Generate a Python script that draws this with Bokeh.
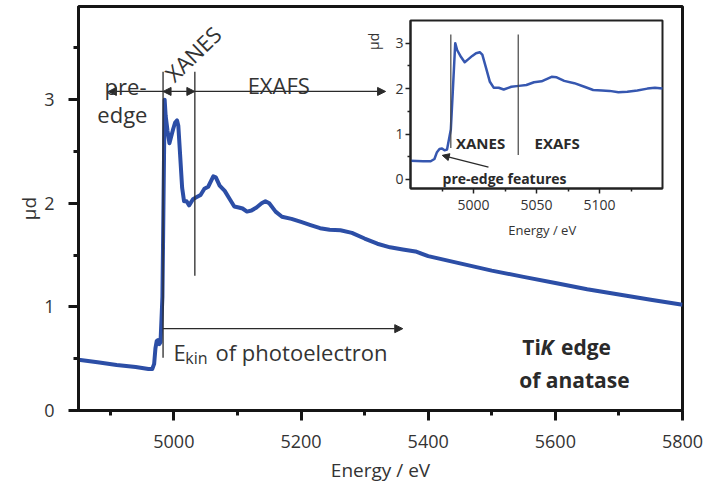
import numpy as np
from bokeh.plotting import figure
from bokeh.models import Range1d, LinearAxis, FixedTicker, Label, Arrow, NormalHead
from bokeh.embed import file_html
from bokeh.resources import INLINE

# Ti K-edge absorption spectrum of anatase
energy = [4850, 4880, 4910, 4940, 4950, 4960, 4966, 4969, 4971, 4973, 4975, 4977, 4979,
          4981, 4982, 4983.5, 4985.5, 4987, 4990, 4993, 4996, 4999, 5002, 5005,
          5007, 5010, 5013, 5016, 5020, 5024, 5030, 5036, 5042, 5048, 5054, 5062,
          5066, 5072, 5080, 5088, 5095, 5102, 5108, 5115, 5122, 5130, 5138, 5144,
          5150, 5160, 5170, 5185, 5200, 5215, 5230, 5245, 5262, 5280, 5300, 5320,
          5340, 5360, 5380, 5400, 5450, 5500, 5550, 5600, 5650, 5700, 5750, 5800]
mu_d = [0.49, 0.465, 0.44, 0.42, 0.41, 0.40, 0.40, 0.45, 0.60, 0.67, 0.68, 0.64, 0.66,
        0.95, 1.10, 1.90, 3.00, 2.85, 2.70, 2.58, 2.65, 2.72, 2.78, 2.80,
        2.75, 2.45, 2.15, 2.02, 2.02, 1.98, 2.04, 2.06, 2.08, 2.14, 2.16, 2.26,
        2.25, 2.17, 2.12, 2.04, 1.97, 1.96, 1.95, 1.92, 1.93, 1.96, 2.00, 2.02,
        2.00, 1.92, 1.87, 1.85, 1.82, 1.79, 1.76, 1.745, 1.74, 1.715, 1.66, 1.61,
        1.575, 1.555, 1.535, 1.49, 1.42, 1.35, 1.29, 1.23, 1.17, 1.12, 1.07, 1.02]

x_ticks = [5000, 5200, 5400, 5600, 5800]
y_ticks = [0, 1, 2, 3]
inset_x_ticks = [5000, 5050, 5100]
inset_y_ticks = [0, 1, 2, 3]

# region boundaries (eV)
edge_start = 4983
xanes_end = 5033
inset_xanes = 4982
inset_exafs = 5035.5

BLUE = "#2c4ea6"
INK = "#2a2a2a"
FONT = "Open Sans"

# frame geometry in screen pixels
FL, FR, FT, FB = 78, 682, 6, 410
W, H = 707, 495

p = figure(width=W, height=H, x_range=Range1d(4850, 5800), y_range=Range1d(0, 3.9),
           min_border_left=FL, min_border_right=W - FR, min_border_top=FT,
           min_border_bottom=H - FB, output_backend="svg", toolbar_location=None,
           x_axis_label="Energy / eV", y_axis_label="μd")
p.xgrid.visible = False
p.ygrid.visible = False
p.outline_line_color = "#151515"
p.outline_line_width = 3
p.background_fill_color = "white"
p.border_fill_color = "white"

p.xaxis.ticker = FixedTicker(ticks=x_ticks, minor_ticks=[4900, 5100, 5300, 5500, 5700])
p.yaxis.ticker = FixedTicker(ticks=y_ticks, minor_ticks=[0.5, 1.5, 2.5, 3.5])
for ax in (p.xaxis[0], p.yaxis[0]):
    ax.axis_line_width = 3
    ax.axis_line_color = "#151515"
    ax.major_tick_line_width = 3
    ax.minor_tick_line_width = 3
    ax.major_tick_line_color = "#151515"
    ax.minor_tick_line_color = "#151515"
    ax.major_tick_out = 10
    ax.major_tick_in = 0
    ax.minor_tick_out = 5
    ax.minor_tick_in = 0
    ax.major_label_text_font = FONT
    ax.major_label_text_font_size = "18px"
    ax.major_label_text_color = "#333333"
    ax.axis_label_text_font = FONT
    ax.axis_label_text_font_size = "19px"
    ax.axis_label_text_font_style = "normal"
    ax.axis_label_text_color = "#333333"
p.xaxis.major_label_standoff = 14
p.xaxis.axis_label_standoff = 6
p.yaxis.major_label_standoff = 14
p.yaxis.axis_label_standoff = -1

# main spectrum
p.line(energy, mu_d, line_color=BLUE, line_width=4, line_join="round")

# region markers on the main spectrum
p.segment(x0=[edge_start, xanes_end], y0=[0.51, 1.30], x1=[edge_start, xanes_end],
          y1=[3.27, 3.27], line_color=INK, line_width=1.3)

def arrow(x0, y0, x1, y1, both=False, size=8, xr="default", yr="default", width=1.3):
    head = NormalHead(size=size, fill_color=INK, line_color=INK, line_width=1)
    start = NormalHead(size=size, fill_color=INK, line_color=INK, line_width=1) if both else None
    p.add_layout(Arrow(x_start=x0, y_start=y0, x_end=x1, y_end=y1, end=head, start=start,
                       line_color=INK, line_width=width, x_range_name=xr, y_range_name=yr))

arrow_y = 3.08
arrow(edge_start, arrow_y, 4897, arrow_y)
arrow(edge_start, arrow_y, xanes_end, arrow_y, both=True)
arrow(xanes_end, arrow_y, 5333, arrow_y)
arrow(edge_start, 0.79, 5360, 0.79)

def label(x, y, text, size="22px", align="left", baseline="alphabetic", angle=0,
          style="normal", xr="default", yr="default", color="#333333"):
    p.add_layout(Label(x=x, y=y, text=text, text_font=FONT, text_font_size=size,
                       text_align=align, text_baseline=baseline, angle=angle,
                       angle_units="deg", text_font_style=style, text_color=color,
                       x_range_name=xr, y_range_name=yr))

label(4924, 3.13, "pre-", align="center")
label(4919, 2.86, "edge", align="center")
label(5165, 3.14, "EXAFS", align="center")
label(4991.6, 3.22, "XANES", angle=44)
label(4999.4, 0.563, "E")
label(5018, 0.51, "kin", size="16px")
label(5065.5, 0.563, "of photoelectron")
label(5548, 0.61, "Ti", size="21px", style="bold", color="#2a2a2a")
label(5576.5, 0.61, "K", size="21px", style="bold italic", color="#2a2a2a")
label(5609, 0.61, "edge", size="21px", style="bold", color="#2a2a2a")
label(5630, 0.29, "of anatase", size="21px", style="bold", align="center", color="#2a2a2a")

# inset: zoom on the edge region, mapped onto its own box through extra ranges
IL, IR, IT, IB = 410, 662, 20, 188
ix0, ix1 = 4950, 5150
iy0, iy1 = -0.2, 3.5
sx = (ix1 - ix0) / (IR - IL)
sy = (iy1 - iy0) / (IB - IT)
p.extra_x_ranges = {"ix": Range1d(ix0 - (IL - FL) * sx, ix1 + (FR - IR) * sx)}
p.extra_y_ranges = {"iy": Range1d(iy0 - (FB - IB) * sy, iy1 + (IT - FT) * sy)}

p.quad(left=[ix0], right=[ix1], bottom=[iy0], top=[iy1], fill_color="white",
       line_color="#222222", line_width=2, x_range_name="ix", y_range_name="iy")

e_arr = np.array(energy)
m_arr = np.array(mu_d)
sel = (e_arr >= ix0) & (e_arr <= ix1)
p.line(e_arr[sel], m_arr[sel], line_color="#3657b0", line_width=2.5,
       line_join="round", x_range_name="ix", y_range_name="iy")

p.segment(x0=[inset_xanes, inset_exafs], y0=[0.69, 0.54], x1=[inset_xanes, inset_exafs],
          y1=[3.19, 3.19], line_color="#444444", line_width=1.2,
          x_range_name="ix", y_range_name="iy")

ibx = LinearAxis(x_range_name="ix", y_range_name="iy", fixed_location=iy0,
                 bounds=(ix0, ix1),
                 ticker=FixedTicker(ticks=inset_x_ticks, minor_ticks=[4975, 5025, 5075, 5125]))
iby = LinearAxis(x_range_name="ix", y_range_name="iy", fixed_location=ix0,
                 bounds=(iy0, iy1),
                 ticker=FixedTicker(ticks=inset_y_ticks, minor_ticks=[0.5, 1.5, 2.5]))
for ax in (ibx, iby):
    ax.axis_line_width = 2
    ax.axis_line_color = "#222222"
    ax.major_tick_line_width = 1.5
    ax.minor_tick_line_width = 1.5
    ax.major_tick_line_color = "#222222"
    ax.minor_tick_line_color = "#222222"
    ax.major_tick_out = 5
    ax.major_tick_in = 0
    ax.minor_tick_out = 3
    ax.minor_tick_in = 0
    ax.major_label_text_font = FONT
    ax.major_label_text_font_size = "14px"
    ax.major_label_text_color = "#333333"
ibx.major_label_standoff = 6
iby.major_label_standoff = 2
p.add_layout(ibx, "below")
p.add_layout(iby, "left")

label(4921, 3.04, "μd", size="14px", align="center", baseline="middle", angle=90,
      xr="ix", yr="iy")
label(5054.5, -1.12, "Energy / eV", size="13px", align="center", baseline="middle",
      xr="ix", yr="iy")
label(5005.6, 0.80, "XANES", size="15px", style="bold", align="center",
      baseline="middle", xr="ix", yr="iy", color="#2a2a2a")
label(5066.4, 0.80, "EXAFS", size="15px", style="bold", align="center",
      baseline="middle", xr="ix", yr="iy", color="#2a2a2a")
label(5024.6, 0.03, "pre-edge features", size="14px", style="bold", align="center",
      xr="ix", yr="iy", color="#2a2a2a")
arrow(5011.9, 0.27, 4975.2, 0.53, size=7, xr="ix", yr="iy", width=1.2)

open("out.html", "w").write(file_html(p, INLINE))
